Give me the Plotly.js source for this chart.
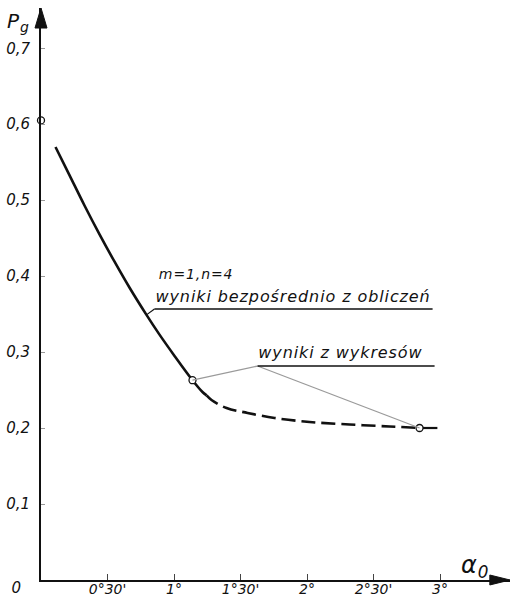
<!DOCTYPE html>
<html>
<head>
<meta charset="utf-8">
<script src="https://cdn.plot.ly/plotly-3.0.1.min.js"></script>
<style>
html,body{margin:0;padding:0;background:#fff;}
#chart{width:511px;height:599px;}
#chart text.annotation-text{letter-spacing:0.9px;}
</style>
</head>
<body>
<div id="chart"></div>
<script>
// Curve p_g(alpha_0), alpha in degrees
const solidX = [0.109, 0.214, 0.327, 0.440, 0.553, 0.665, 0.793, 0.891, 1.004, 1.139, 1.214, 1.245];
const solidY = [0.570, 0.533, 0.493, 0.455, 0.419, 0.385, 0.349, 0.323, 0.295, 0.263, 0.2475, 0.243];
const dashX = [1.245, 1.282, 1.395, 1.553, 1.756, 2.019, 2.320, 2.620, 2.846];
const dashY = [0.243, 0.237, 0.2264, 0.2199, 0.2133, 0.2080, 0.2047, 0.2021, 0.2001];
const tailX = [2.846, 2.980];
const tailY = [0.2001, 0.2001];
const pointX = [0, 1.139, 2.846];
const pointY = [0.605, 0.263, 0.2001];

const xTickVals = [0.5, 1, 1.5, 2, 2.5, 3];
const xTickText = ["0°30'", "1°", "1°30'", "2°", "2°30'", "3°"];
const yTickVals = [0.1, 0.2, 0.3, 0.4, 0.5, 0.6, 0.7];
const yTickText = ["0,1", "0,2", "0,3", "0,4", "0,5", "0,6", "0,7"];

const labelCurve1 = "m=1,n=4";
const labelCurve2 = "wyniki bezpośrednio z obliczeń";
const labelChart = "wyniki z wykresów";

const FONT = "DejaVu Sans";
const ink = "#111";

const traces = [
  {x: solidX, y: solidY, mode: "lines", line: {color: ink, width: 2.6, shape: "spline", smoothing: 1}, hoverinfo: "skip"},
  {x: dashX, y: dashY, mode: "lines", line: {color: ink, width: 2.6, shape: "spline", smoothing: 1, dash: "14px,6px"}, hoverinfo: "skip"},
  {x: tailX, y: tailY, mode: "lines", line: {color: ink, width: 2.2}, hoverinfo: "skip"},
  {x: pointX, y: pointY, mode: "markers", cliponaxis: false,
   marker: {symbol: "circle", size: 7, color: "#fff", line: {color: ink, width: 1.3}}, hoverinfo: "skip"}
];

const gray = "#9a9a9a";
const shapes = [
  // leader to upper label
  {type: "line", xref: "x", yref: "y", x0: 0.793, y0: 0.349, x1: 0.853, y1: 0.3568, line: {color: ink, width: 1.2}},
  {type: "line", xref: "x", yref: "y", x0: 0.853, y0: 0.3568, x1: 2.944, y1: 0.3568, line: {color: ink, width: 1.5}},
  // leaders to "wyniki z wykresów"
  {type: "line", xref: "x", yref: "y", x0: 1.139, y0: 0.263, x1: 1.628, y1: 0.2817, line: {color: gray, width: 1.3}},
  {type: "line", xref: "x", yref: "y", x0: 1.628, y0: 0.2817, x1: 2.846, y1: 0.2001, line: {color: gray, width: 1.3}},
  {type: "line", xref: "x", yref: "y", x0: 1.628, y0: 0.2817, x1: 2.959, y1: 0.2817, line: {color: ink, width: 1.5}},
  // axis arrowheads
  {type: "path", xref: "paper", yref: "paper", path: "M 0,1 L -0.0128,0.965 L 0.0128,0.965 Z", fillcolor: ink, line: {color: ink, width: 1}},
  {type: "path", xref: "paper", yref: "paper", path: "M 1,0 L 0.957,0.0087 L 0.957,-0.0087 Z", fillcolor: ink, line: {color: ink, width: 1}}
];

const tf = {family: FONT, size: 14, color: ink, style: "italic"};
const af = {family: FONT, size: 16, color: ink, style: "italic"};
const annotations = [
  {xref: "x", yref: "y", x: 0.895, y: 0.4028, text: labelCurve1, showarrow: false, xanchor: "left", yanchor: "middle",
   font: {family: FONT, size: 14, color: ink, style: "italic"}},
  {xref: "x", yref: "y", x: 0.950, y: 0.3732, text: labelCurve2, showarrow: false, xanchor: "left", yanchor: "middle", font: af},
  {xref: "x", yref: "y", x: 1.680, y: 0.2995, text: labelChart, showarrow: false, xanchor: "left", yanchor: "middle", font: af},
  {xref: "paper", yref: "paper", x: -0.047, y: 0.9755, text: "P<sub>g</sub>", showarrow: false, xanchor: "center", yanchor: "middle",
   font: {family: FONT, size: 20, color: ink, style: "italic"}},
  {xref: "x", yref: "y", x: 3.267, y: 0.018, text: "α<sub>0</sub>", showarrow: false, xanchor: "center", yanchor: "middle",
   font: {family: FONT, size: 24, color: ink, style: "italic"}},
  {xref: "paper", yref: "paper", x: -0.051, y: -0.014, text: "0", showarrow: false, xanchor: "center", yanchor: "middle",
   font: {family: FONT, size: 15, color: ink, style: "italic"}}
];

const layout = {
  width: 511, height: 599,
  margin: {l: 41, r: 1, t: 8, b: 19, pad: 0},
  paper_bgcolor: "#fff", plot_bgcolor: "#fff",
  showlegend: false,
  xaxis: {range: [0, 3.526], showgrid: false, zeroline: false, showline: true, linecolor: ink, linewidth: 1.6,
          tickmode: "array", tickvals: xTickVals, ticktext: xTickText, ticks: "inside", ticklen: 6, tickwidth: 1, tickcolor: "#444",
          tickfont: tf, ticklabelstandoff: -4, fixedrange: true},
  yaxis: {range: [0, 0.753], showgrid: false, zeroline: false, showline: true, linecolor: ink, linewidth: 2,
          tickmode: "array", tickvals: yTickVals, ticktext: yTickText, ticks: "inside", ticklen: 4, tickwidth: 1, tickcolor: "#999",
          tickfont: {family: FONT, size: 15, color: ink, style: "italic"}, ticklabelstandoff: 6, fixedrange: true},
  shapes: shapes,
  annotations: annotations
};

Plotly.newPlot("chart", traces, layout, {staticPlot: true, displayModeBar: false});
</script>
</body>
</html>
